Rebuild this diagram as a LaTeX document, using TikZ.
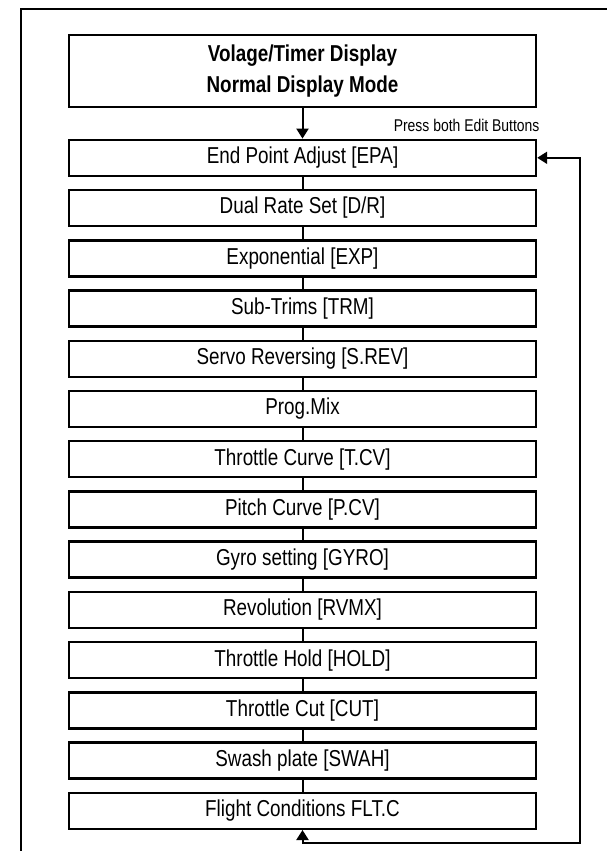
\documentclass[tikz,border=0pt]{standalone}
\usepackage{fontspec}
\setmainfont{Liberation Sans}
\newfontfamily\narrowsans[FakeStretch=0.82]{Liberation Sans}
\usetikzlibrary{arrows.meta, positioning}

\begin{document}
\begin{tikzpicture}[
    x=1pt, y=-1pt,
    every node/.style={font=\narrowsans\fontsize{23}{31}\selectfont},
    menubox/.style={draw, rectangle, line width=2.4pt, minimum width=467pt, minimum height=36pt, inner sep=0pt, align=center},
    link/.style={line width=2pt},
    arrow/.style={-{Triangle[width=12pt,length=10pt]}, line width=2pt},
    looparrow/.style={{Triangle[width=12pt,length=10pt]}-{Triangle[width=12pt,length=10pt]}, line width=2pt}
]
    \useasboundingbox (0,0) rectangle (606,851);

    % Outer frame (cut off right and bottom)
    \draw[line width=2pt] (612,9) -- (21,9) -- (21,857);

    % Display mode
    \node[menubox, minimum height=72pt, font=\narrowsans\bfseries\fontsize{23}{31}\selectfont] (display) at (302.5,71) {Volage/Timer Display\\Normal Display Mode};

    % Menu items
    \node[menubox] (epa) at (302.5,157.8) {End Point Adjust [EPA]};
    \node[menubox] (dr) at (302.5,208.0) {Dual Rate Set [D/R]};
    \node[menubox] (exp) at (302.5,258.3) {Exponential [EXP]};
    \node[menubox] (trm) at (302.5,308.5) {Sub-Trims [TRM]};
    \node[menubox] (srev) at (302.5,358.7) {Servo Reversing [S.REV]};
    \node[menubox] (mix) at (302.5,409.0) {Prog.Mix};
    \node[menubox] (tcv) at (302.5,459.2) {Throttle Curve [T.CV]};
    \node[menubox] (pcv) at (302.5,509.4) {Pitch Curve [P.CV]};
    \node[menubox] (gyro) at (302.5,559.6) {Gyro setting [GYRO]};
    \node[menubox] (rvmx) at (302.5,609.9) {Revolution [RVMX]};
    \node[menubox] (hold) at (302.5,660.1) {Throttle Hold [HOLD]};
    \node[menubox] (cut) at (302.5,710.3) {Throttle Cut [CUT]};
    \node[menubox] (swah) at (302.5,760.6) {Swash plate [SWAH]};
    \node[menubox] (fltc) at (302.5,810.8) {Flight Conditions FLT.C};

    % Entry
    \draw[arrow] (display) -- (epa);
    \node[anchor=base east, font=\narrowsans\fontsize{17}{19}\selectfont] (press) at (543,131) {Press both Edit Buttons};

    % Links between items
    \draw[link] (epa) -- (dr);
    \draw[link] (dr) -- (exp);
    \draw[link] (exp) -- (trm);
    \draw[link] (trm) -- (srev);
    \draw[link] (srev) -- (mix);
    \draw[link] (mix) -- (tcv);
    \draw[link] (tcv) -- (pcv);
    \draw[link] (pcv) -- (gyro);
    \draw[link] (gyro) -- (rvmx);
    \draw[link] (rvmx) -- (hold);
    \draw[link] (hold) -- (cut);
    \draw[link] (cut) -- (swah);
    \draw[link] (swah) -- (fltc);

    % Return loop
    \coordinate (loopcorner) at (580,843);
    \draw[looparrow] (fltc.south) |- (loopcorner) |- (epa.east);
\end{tikzpicture}
\end{document}
